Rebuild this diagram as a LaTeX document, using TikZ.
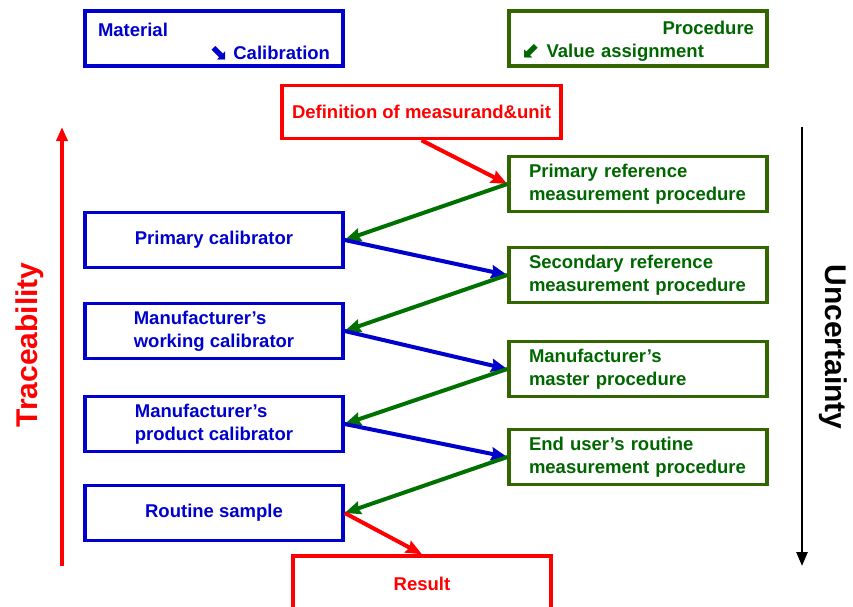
\documentclass[tikz,border=0pt]{standalone}
\usepackage{fontspec}
\setmainfont{Liberation Sans}
\newfontfamily\arrowfont{DejaVu Sans}
\usetikzlibrary{arrows.meta}
\definecolor{calBlue}{HTML}{0000CC}
\definecolor{procGreen}{HTML}{336600}
\definecolor{procText}{HTML}{006600}
\definecolor{linkGreen}{HTML}{007000}
\definecolor{defRed}{HTML}{FF0000}
\newcommand{\boxfont}{\bfseries\fontsize{18.5}{23}\selectfont}
\newcommand{\sidefont}{\bfseries\fontsize{30}{36}\selectfont}
\newcommand{\keyarrow}[1]{{\arrowfont\fontsize{22}{23}\selectfont #1}}
\tikzstyle{calbox}=[rectangle, draw=calBlue, line width=3.5pt, text=calBlue, minimum width=258pt, minimum height=55pt, align=left, font=\boxfont]
\tikzstyle{procbox}=[rectangle, draw=procGreen, line width=3.5pt, text=procText, minimum width=258pt, minimum height=55pt, text width=218pt, inner xsep=20pt, align=left, font=\boxfont]
\tikzstyle{keybox}=[text width=232pt, inner xsep=13pt]
\tikzstyle{defbox}=[rectangle, draw=defRed, line width=3.5pt, text=defRed, minimum height=53pt, font=\boxfont]
\tikzstyle{link}=[line width=4pt, -{Stealth[length=16pt,width=13pt,inset=2pt]}]
\tikzstyle{axisarrow}=[-{Triangle[length=14pt,width=11pt]}]

\begin{document}
\begin{tikzpicture}[x=1pt, y=1pt, node distance=91pt]
	\useasboundingbox (0,0) rectangle (853,-606);
	
	% legend boxes
	\node (material) [calbox, keybox] at (214,-38.5) {
		\rule{0pt}{19.5pt}Material\\
		\hspace*{\fill}\keyarrow{⬊} Calibration};
	\node (procedure) [procbox, keybox] at (638,-38.5) {
		\rule{0pt}{19.5pt}\hspace*{\fill}Procedure\\
		\keyarrow{⬋} Value assignment};
	
	\node (definition) [defbox, minimum width=279pt] at (421.5,-112) {Definition of measurand\&unit};
	
	% procedures
	\node (primary ref) [procbox] at (638,-184) {Primary reference\\measurement procedure};
	\node (secondary ref) [procbox, below of=primary ref] {Secondary reference\\measurement procedure};
	\node (master) [procbox, below of=secondary ref, yshift=-3pt] {Manufacturer’s\\master procedure};
	\node (end user) [procbox, below of=master, yshift=3pt] {End user’s routine\\measurement procedure};
	
	% calibrators
	\node (primary cal) [calbox] at (214,-240) {Primary calibrator};
	\node (working cal) [calbox, below of=primary cal] {Manufacturer’s\\working calibrator};
	\node (product cal) [calbox, below of=working cal, yshift=-2pt] {Manufacturer’s\\product calibrator};
	\node (routine) [calbox, below of=product cal, yshift=2pt] {Routine sample};
	
	\node (result) [defbox, minimum width=258pt, minimum height=55pt] at (422,-583.5) {Result};
	
	% side axes
	\coordinate (trace low) at (62,-566);
	\coordinate (trace high) at (62,-127);
	\coordinate (unc high) at (802,-127);
	\coordinate (unc low) at (802,-566);
	\node (traceability) [rotate=90, text=defRed, font=\sidefont] at (30,-345) {Traceability};
	\node (uncertainty) [rotate=-90, font=\sidefont] at (833,-347) {Uncertainty};
	
	\draw [axisarrow, line width=3.5pt, defRed] (trace low) -- (trace high);
	\draw [axisarrow, line width=2.5pt] (unc high) -- (unc low);
	
	\draw [link, defRed] (definition.south) -- (primary ref.west);
	\draw [link, linkGreen] (primary ref.west) -- (primary cal.east);
	\draw [link, calBlue] (primary cal.east) -- (secondary ref.west);
	\draw [link, linkGreen] (secondary ref.west) -- (working cal.east);
	\draw [link, calBlue] (working cal.east) -- (master.west);
	\draw [link, linkGreen] (master.west) -- (product cal.east);
	\draw [link, calBlue] (product cal.east) -- (end user.west);
	\draw [link, linkGreen] (end user.west) -- (routine.east);
	\draw [link, defRed] (routine.east) -- (result.north);
	
\end{tikzpicture}
\end{document}
